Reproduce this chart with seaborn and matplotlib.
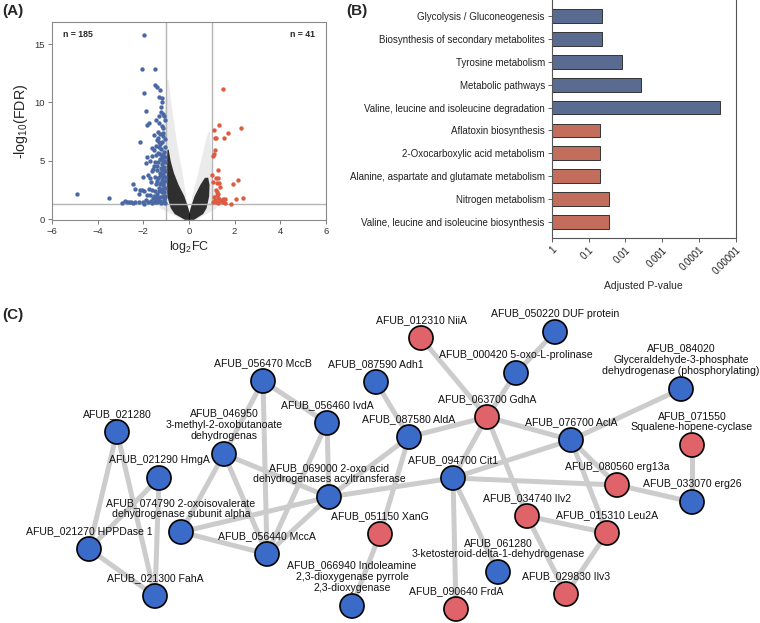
import numpy as np
import pandas as pd
import matplotlib
matplotlib.use('Agg')
import matplotlib.pyplot as plt
import seaborn as sns

sns.set_style('white')
plt.rcParams['font.family'] = ['Liberation Sans', 'DejaVu Sans']
plt.rcParams['mathtext.fontset'] = 'custom'
plt.rcParams['mathtext.rm'] = 'Liberation Sans'
plt.rcParams['mathtext.default'] = 'regular'

# ---------------- (A) volcano plot ----------------
# genes down (log2FC <= -1, FDR < 0.05)
down_fc = [-1.96, -2.04, -1.50, -1.96, -1.47, -1.40, -1.28, -1.30, -1.20, -1.89,
           -1.24, -1.10, -1.06, -1.76, -1.82, -1.30, -1.20, -1.14, -2.16, -1.54,
           -1.35, -1.25, -1.12, -1.40, -1.18, -1.52, -1.60, -1.30, -1.22, -1.10,
           -1.36, -1.45, -1.15, -1.05, -1.28, -1.72, -1.90, -1.55, -1.35, -1.20,
           -1.08, -1.42, -1.62, -1.25, -1.12, -1.80, -2.00, -1.50, -1.35, -1.18,
           -1.05, -1.65, -1.45, -1.28, -1.12, -2.45, -2.38, -2.15, -2.05, -1.95,
           -1.75, -1.60, -1.48, -1.33, -1.20, -1.08, -2.20, -1.85, -1.70, -1.55,
           -1.40, -1.25, -1.10, -4.89, -3.51, -2.92, -2.70, -2.62, -2.55, -2.45,
           -2.20, -2.00, -1.90, -1.78, -1.65, -1.50, -1.38, -1.22, -1.10, -1.05,
           -1.60, -1.95, -1.03, -1.03, -1.03, -1.04, -1.06, -1.05, -1.07, -1.15,
           -1.17, -1.22, -1.15, -1.27, -1.32, -1.42, -1.40, -1.18, -1.13, -1.25,
           -1.37, -1.47, -1.57, -1.30, -1.24, -1.16, -1.43, -1.12, -1.32, -1.45,
           -1.62, -1.85, -1.27, -1.10, -1.18, -1.12, -1.56, -1.70, -1.38, -1.50,
           -2.80, -2.35, -1.08, -1.14, -1.21, -1.09, -1.19, -1.26, -1.34, -1.04]
down_fdr = [15.8, 12.85, 12.85, 10.85, 11.5, 11.3, 11.1, 10.45, 10.4, 9.3,
            9.2, 8.8, 8.5, 8.2, 8.1, 8.2, 8.0, 7.8, 6.65, 7.2,
            7.5, 7.3, 7.1, 6.8, 6.6, 5.9, 6.1, 6.2, 6.0, 5.8,
            5.7, 5.5, 5.5, 5.3, 5.2, 5.0, 4.8, 4.6, 4.9, 4.7,
            4.5, 4.2, 4.1, 4.0, 3.9, 3.8, 3.6, 3.6, 3.5, 3.4,
            3.3, 3.2, 3.0, 3.0, 2.9, 3.06, 2.63, 2.55, 2.5, 2.4,
            2.6, 2.5, 2.4, 2.45, 2.35, 2.3, 2.2, 2.1, 2.05, 2.0,
            1.95, 1.9, 1.85, 2.2, 1.83, 1.43, 1.52, 1.5, 1.45, 1.4,
            1.45, 1.5, 1.65, 1.45, 1.6, 1.5, 1.45, 1.42, 1.5, 1.38,
            1.38, 1.35, 2.0, 2.7, 3.6, 4.1, 4.9, 6.2, 6.9, 7.4,
            5.1, 4.4, 3.0, 3.7, 2.7, 3.3, 2.2, 2.6, 2.0, 1.6,
            1.75, 1.75, 1.8, 8.8, 9.6, 10.0, 8.5, 9.0, 6.6, 6.3,
            5.4, 5.3, 5.6, 5.0, 4.2, 3.6, 4.3, 3.5, 4.6, 4.9,
            1.55, 1.48, 1.62, 2.55, 3.15, 4.25, 5.35, 6.45, 7.0, 1.95]

# genes up (log2FC >= 1, FDR < 0.05)
up_fc = [1.47, 1.30, 1.10, 2.26, 1.69, 1.54, 1.13, 1.18, 1.13, 1.10,
         1.07, 1.25, 1.02, 1.19, 1.27, 1.06, 1.21, 1.31, 2.13, 1.94,
         1.35, 1.18, 1.27, 1.21, 1.25, 1.50, 1.59, 2.04, 2.36, 1.43,
         1.13, 1.18, 1.25, 1.57, 1.84, 1.32, 1.38, 1.05, 1.10, 1.22, 1.48]
up_fdr = [11.14, 8.07, 7.64, 7.79, 7.36, 7.0, 6.98, 6.98, 5.93, 5.58,
          5.44, 4.2, 3.78, 3.55, 3.55, 3.2, 3.15, 3.15, 3.35, 3.06,
          2.78, 2.5, 2.2, 2.06, 1.86, 1.72, 1.78, 1.75, 1.80, 1.55,
          1.63, 1.48, 1.42, 1.4, 1.35, 1.7, 1.6, 1.45, 1.9, 2.3, 1.52]

# non-significant genes: density envelopes of the grey cloud
halo_left_y = [0, 1, 2, 4, 6, 8, 10, 12]
halo_left_out = [-0.3, -1.3, -1.4, -1.35, -1.25, -1.15, -1.05, -0.98]
halo_left_in = [0.0, -0.05, -0.15, -0.3, -0.5, -0.65, -0.8, -0.92]
halo_right_y = [0, 1, 2, 3, 4, 5, 6, 7.5]
halo_right_out = [0.3, 1.2, 1.15, 1.05, 1.0, 0.97, 0.95, 0.9]
halo_right_in = [0.0, 0.05, 0.12, 0.25, 0.38, 0.5, 0.62, 0.82]
core_left_y = [0, 0.5, 1, 2, 3, 4, 5, 6]
core_left_out = [-0.2, -0.65, -0.82, -0.97, -1.0, -1.0, -0.99, -0.97]
core_left_in = [0.02, 0.02, -0.05, -0.22, -0.48, -0.68, -0.82, -0.91]
core_right_y = [0, 0.5, 1, 2, 3, 3.6]
core_right_out = [0.2, 0.6, 0.75, 0.86, 0.88, 0.82]
core_right_in = [-0.02, -0.02, 0.05, 0.22, 0.48, 0.68]

# ---------------- (B) KEGG enrichment ----------------
pathways = ['Glycolysis / Gluconeogenesis',
            'Biosynthesis of secondary metabolites',
            'Tyrosine metabolism',
            'Metabolic pathways',
            'Valine, leucine and isoleucine degradation',
            'Aflatoxin biosynthesis',
            '2-Oxocarboxylic acid metabolism',
            'Alanine, aspartate and glutamate metabolism',
            'Nitrogen metabolism',
            'Valine, leucine and isoleucine biosynthesis']
padj = [0.0426, 0.0426, 0.012, 0.0037, 0.000026,
        0.048, 0.048, 0.048, 0.028, 0.028]
direction = ['down'] * 5 + ['up'] * 5
p_ticks = ['1', '0.1', '0.01', '0.001', '0.0001', '0.00001']

# ---------------- (C) interaction network ----------------
node_names = ['056470', '056460', '021280', '046950', '021290', '069000', '074790',
              '021270', '056440', '021300', '051150', '066940', '087590', '087580',
              '012310', '094700', '063700', '050220', '000420', '084020', '076700',
              '071550', '080560', '033070', '034740', '015310', '061280', '029830',
              '090640']
node_x = [263, 327, 117, 224, 159, 329, 181, 89, 267, 155, 380, 352, 376, 409,
          421, 453, 487, 555, 516, 681, 571, 692, 617, 692, 527, 607, 498, 566, 456]
node_y = [381, 423, 432, 454, 478, 497, 532, 549, 554, 596, 534, 606, 382, 437,
          338, 478, 417, 332, 373, 389, 440, 445, 485, 502, 516, 533, 572, 594, 609]
node_group = ['down', 'down', 'down', 'down', 'down', 'down', 'down', 'down', 'down',
              'down', 'up', 'down', 'down', 'down', 'up', 'down', 'up', 'down', 'down',
              'down', 'down', 'up', 'up', 'down', 'up', 'up', 'down', 'up', 'up']
node_labels = ['AFUB_056470 MccB', 'AFUB_056460 IvdA', 'AFUB_021280',
               'AFUB_046950\n3-methyl-2-oxobutanoate\ndehydrogenas',
               'AFUB_021290 HmgA',
               'AFUB_069000 2-oxo acid\ndehydrogenases acyltransferase',
               'AFUB_074790 2-oxoisovalerate\ndehydrogenase subunit alpha',
               'AFUB_021270 HPPDase 1', 'AFUB_056440 MccA', 'AFUB_021300 FahA',
               'AFUB_051150 XanG',
               'AFUB_066940 Indoleamine\n2,3-dioxygenase pyrrole\n2,3-dioxygenase',
               'AFUB_087590 Adh1', 'AFUB_087580 AldA', 'AFUB_012310 NiiA',
               'AFUB_094700 Cit1', 'AFUB_063700 GdhA', 'AFUB_050220 DUF protein',
               'AFUB_000420 5-oxo-L-prolinase',
               'AFUB_084020\nGlyceraldehyde-3-phosphate\ndehydrogenase (phosphorylating)',
               'AFUB_076700 AclA', 'AFUB_071550\nSqualene-hopene-cyclase',
               'AFUB_080560 erg13a', 'AFUB_033070 erg26', 'AFUB_034740 Ilv2',
               'AFUB_015310 Leu2A',
               'AFUB_061280\n3-ketosteroid-delta-1-dehydrogenase',
               'AFUB_029830 Ilv3', 'AFUB_090640 FrdA']
edges = [('021280', '021270'), ('021280', '021300'), ('021290', '021270'),
         ('021290', '021300'), ('021270', '021300'), ('046950', '074790'),
         ('046950', '056470'), ('046950', '069000'), ('046950', '056440'),
         ('056470', '056440'), ('056470', '056460'), ('056460', '069000'),
         ('056460', '056440'), ('074790', '056440'), ('074790', '069000'),
         ('069000', '056440'), ('069000', '087580'), ('069000', '094700'),
         ('087590', '087580'), ('087580', '051150'), ('051150', '066940'),
         ('087580', '063700'), ('012310', '063700'), ('000420', '063700'),
         ('000420', '050220'), ('063700', '076700'), ('063700', '094700'),
         ('063700', '034740'), ('076700', '084020'), ('076700', '094700'),
         ('076700', '015310'), ('076700', '080560'), ('094700', '080560'),
         ('080560', '033070'), ('071550', '033070'), ('034740', '015310'),
         ('034740', '029830'), ('015310', '029830'), ('094700', '090640'),
         ('094700', '061280')]

blue_pt = '#4a68a6'
red_pt = '#de5a40'

fig = plt.figure(figsize=(7.6, 6.23), dpi=100)

# ---- panel A
ax_a = fig.add_axes([0.0684, 0.647, 0.3605, 0.318])
ax_a.fill_betweenx(halo_left_y, halo_left_out, halo_left_in, color='black', alpha=0.08, lw=0)
ax_a.fill_betweenx(halo_right_y, halo_right_out, halo_right_in, color='black', alpha=0.08, lw=0)
ax_a.fill_betweenx(core_left_y, core_left_out, core_left_in, color='black', alpha=0.8, lw=0)
ax_a.fill_betweenx(core_right_y, core_right_out, core_right_in, color='black', alpha=0.8, lw=0)
ax_a.axvline(-1, color='#b5b5b5', lw=1, zorder=1)
ax_a.axvline(1, color='#b5b5b5', lw=1, zorder=1)
ax_a.axhline(-np.log10(0.05), color='#b5b5b5', lw=1, zorder=1)
sns.scatterplot(x=down_fc, y=down_fdr, color=blue_pt, s=10, linewidth=0, ax=ax_a, zorder=3)
sns.scatterplot(x=up_fc, y=up_fdr, color=red_pt, s=10, linewidth=0, ax=ax_a, zorder=3)
ax_a.set_xlim(-6, 6)
ax_a.set_ylim(-0.05, 16.9)
ax_a.set_xticks(range(-6, 7, 2))
ax_a.set_yticks([0, 5, 10, 15])
ax_a.tick_params(bottom=True, left=True, direction='out', length=3, width=0.6,
                 labelsize=6.8, color='#666666', labelcolor='#333333', pad=2)
for s in ax_a.spines.values():
    s.set_color('#8a8a8a')
    s.set_linewidth(0.8)
ax_a.set_xlabel('log$_2$FC', fontsize=9, labelpad=2)
ax_a.set_ylabel('-log$_{10}$(FDR)', fontsize=10.3, labelpad=3)
ax_a.text(0.04, 0.925, 'n = 185', transform=ax_a.transAxes, fontsize=6.3, weight='bold')
ax_a.text(0.96, 0.925, 'n = 41', transform=ax_a.transAxes, fontsize=6.3, weight='bold', ha='right')

# ---- panel B
ax_b = fig.add_axes([0.726, 0.618, 0.242, 0.382])
df_b = pd.DataFrame({'pathway': pathways, 'score': -np.log10(padj), 'direction': direction})
sns.barplot(data=df_b, x='score', y='pathway', hue='direction',
            palette={'down': '#51689b', 'up': '#d4614b'}, dodge=False, width=0.6,
            edgecolor='#333333', linewidth=0.7, legend=False, ax=ax_b)
ax_b.set_xlim(0, 5)
ax_b.set_ylim(9.7, -0.7)
ax_b.set_xticks(range(6))
ax_b.set_xticklabels(p_ticks, rotation=45, ha='right', rotation_mode='anchor')
ax_b.tick_params(bottom=True, left=True, direction='out', length=3, width=0.6,
                 labelsize=7, color='#444444', labelcolor='#222222', pad=2)
ax_b.tick_params(axis='x', labelsize=7)
ax_b.spines['top'].set_visible(False)
for k in ['left', 'bottom', 'right']:
    ax_b.spines[k].set_color('#555555')
    ax_b.spines[k].set_linewidth(0.8)
ax_b.set_ylabel('')
ax_b.set_xlabel('Adjusted P-value', fontsize=7.5, labelpad=3)

# ---- panel C
ax_c = fig.add_axes([0, 0, 1, 312 / 623])
ax_c.set_xlim(0, 760)
ax_c.set_ylim(623, 311)
ax_c.axis('off')
pos = {n: (x, y) for n, x, y in zip(node_names, node_x, node_y)}
for a, b in edges:
    ax_c.plot([pos[a][0], pos[b][0]], [pos[a][1], pos[b][1]], color='#cccccc',
              lw=3.6, solid_capstyle='round', zorder=1)
df_c = pd.DataFrame({'x': node_x, 'y': node_y, 'group': node_group})
sns.scatterplot(data=df_c, x='x', y='y', hue='group',
                palette={'down': '#3a6bc8', 'up': '#e0636a'}, s=300,
                edgecolor='black', linewidth=1.2, legend=False, ax=ax_c, zorder=3)
ax_c.set_xlabel('')
ax_c.set_ylabel('')
for x, y, lab in zip(node_x, node_y, node_labels):
    ax_c.text(x, y - 13, lab, ha='center', va='bottom', fontsize=7.6,
              linespacing=1.15, color='#111111', zorder=2)

fig.text(0.003, 0.994, '(A)', fontsize=11, weight='bold', va='top')
fig.text(0.455, 0.994, '(B)', fontsize=11, weight='bold', va='top')
fig.text(0.003, 0.506, '(C)', fontsize=11, weight='bold', va='top')

fig.savefig('out.png', dpi=100)
